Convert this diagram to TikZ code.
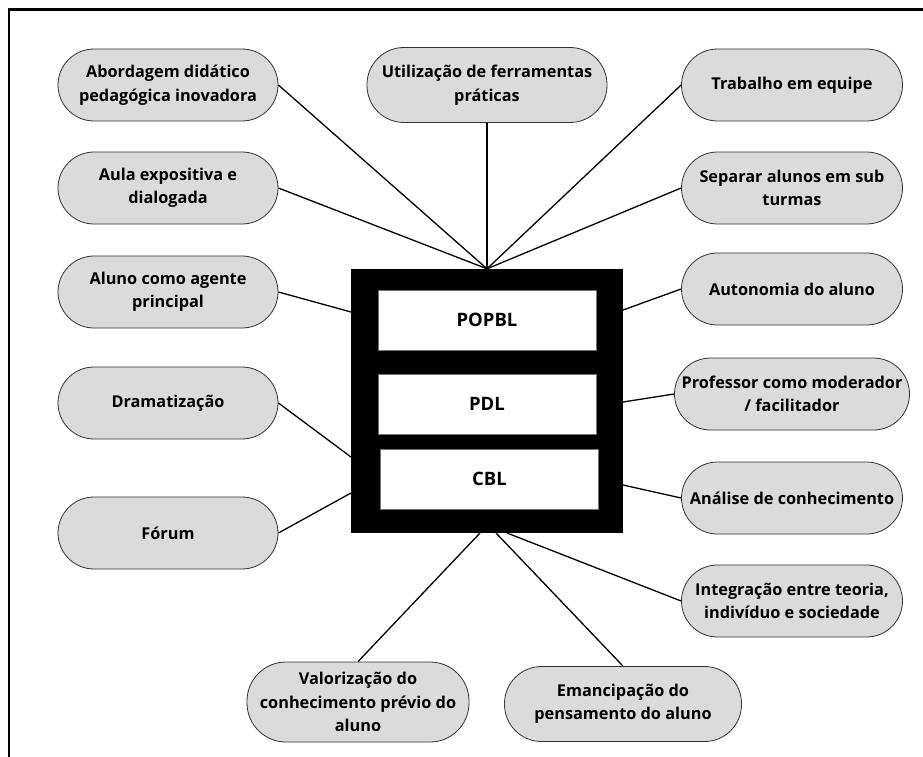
\documentclass[tikz,border=0pt]{standalone}
\usepackage{fontspec}
\setmainfont{Open Sans}
\usetikzlibrary{calc}

\tikzset{
	pill/.style={draw=black!80, fill=black!14, line width=0.8pt, rounded corners=36pt, minimum width=221pt, minimum height=72pt, inner sep=0pt, align=center, font=\fontsize{16.3}{23.5}\selectfont\bfseries},
	method/.style={draw=black!55, fill=white, line width=1pt, minimum width=218pt, minimum height=60pt, inner sep=0pt, font=\fontsize{18.5}{22}\selectfont\bfseries},
	link/.style={line width=1.3pt}
}

\begin{document}
\begin{tikzpicture}[x=1pt, y=-1pt]
			%%%%% START %%%%%
			\useasboundingbox (0, 0) rectangle (923, 757);
			\draw[line width=2.5pt] (9, 757) -- (9, 9.5) -- (923, 9.5);
			
			\node[fill=black, minimum width=272pt, minimum height=264pt, inner sep=0pt] (core) at (487, 401) {};
			\node[method] (popbl) at (487, 320) {POPBL};
			\node[method] (pdl) at (487, 404) {PDL};
			\node[method] (cbl) at (489.5, 479) {CBL};
			
			\node[pill, minimum width=220pt] (abord) at (168, 85) {Abordagem didático\\pedagógica inovadora};
			\node[pill, minimum width=220pt] (aula) at (168, 188) {Aula expositiva e\\dialogada};
			\node[pill, minimum width=220pt] (agente) at (168, 292) {Aluno como agente\\principal};
			\node[pill, minimum width=220pt] (drama) at (168, 403) {Dramatização};
			\node[pill, minimum width=220pt] (forum) at (168, 533) {Fórum};
			
			\node[pill, minimum width=240pt, minimum height=75pt, rounded corners=37pt] (util) at (487, 85) {Utilização de ferramentas\\práticas};
			
			\node[pill] (trab) at (792, 85) {Trabalho em equipe};
			\node[pill] (sep) at (792, 188) {Separar alunos em sub\\turmas};
			\node[pill] (auton) at (792, 289) {Autonomia do aluno};
			\node[pill, minimum width=235pt] (prof) at (792, 394) {Professor como moderador\\/ facilitador};
			\node[pill] (anal) at (792, 498) {Análise de conhecimento};
			\node[pill] (integ) at (792, 601) {Integração entre teoria,\\indivíduo e sociedade};
			
			\node[pill, minimum width=222pt, minimum height=80pt, rounded corners=39pt] (valor) at (358, 702) {Valorização do\\conhecimento prévio do\\aluno};
			\node[pill, minimum width=237pt, minimum height=75pt, rounded corners=37pt] (emanc) at (623, 704) {Emancipação do\\pensamento do aluno};
			
			% ends on the black frame
			\coordinate (w1) at (351, 312);
			\coordinate (w2) at (351, 457);
			\coordinate (w3) at (351, 493);
			\coordinate (e1) at (623, 310);
			\coordinate (e2) at (623, 402);
			\coordinate (e3) at (623, 485);
			\coordinate (s1) at (480, 533);
			\coordinate (s2) at (496, 533);
			\coordinate (s3) at (507, 533);
			
			\draw[link] (abord.east) -- (core.north);
			\draw[link] (aula.east) -- (core.north);
			\draw[link] (util.south) -- (core.north);
			\draw[link] (trab.west) -- (core.north);
			\draw[link] (sep.west) -- (core.north);
			\draw[link] (agente.east) -- (w1);
			\draw[link] (drama.east) -- (w2);
			\draw[link] (forum.east) -- (w3);
			\draw[link] (auton.west) -- (e1);
			\draw[link] (prof.west) -- (e2);
			\draw[link] (anal.west) -- (e3);
			\draw[link] (valor.north) -- (s1);
			\draw[link] (emanc.north) -- (s2);
			\draw[link] (integ.west) -- (s3);
			%%%%% END %%%%%
\end{tikzpicture}
\end{document}
